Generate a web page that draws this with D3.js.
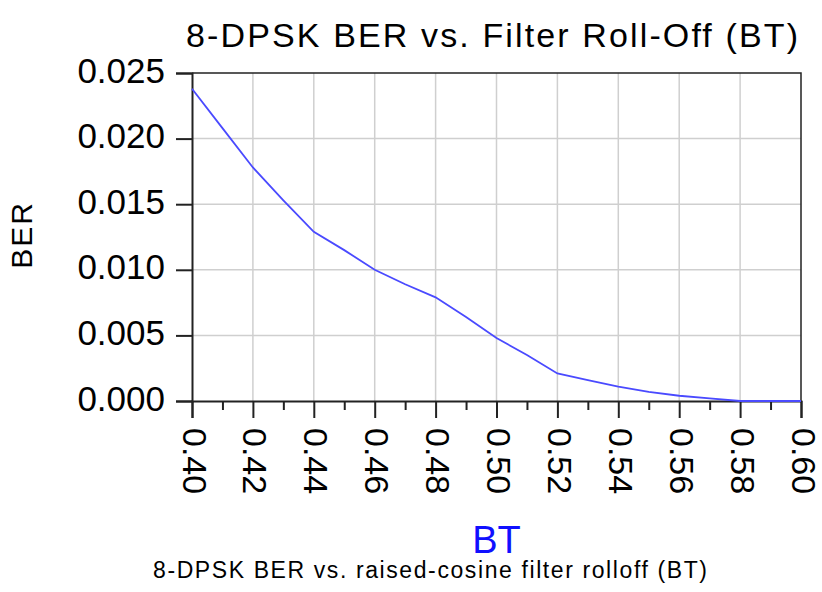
<!DOCTYPE html>
<html>
<head>
<meta charset="utf-8">
<script src="https://cdn.jsdelivr.net/npm/d3@7"></script>
<style>
  body { margin: 0; background: #fff; }
  svg { font-family: "Liberation Sans", Arial, sans-serif; }
</style>
</head>
<body>
<script>
const margin = {top: 73, left: 192, bottom: 191, right: 21}
const W = 822, H = 592
const width = W - margin.left - margin.right
const height = H - margin.top - margin.bottom

// BT values and measured BER
const bt = [0.40, 0.41, 0.42, 0.43, 0.44, 0.45, 0.46, 0.47, 0.48, 0.49, 0.50,
            0.51, 0.52, 0.53, 0.54, 0.55, 0.56, 0.57, 0.58, 0.59, 0.60]
const ber = [0.0238, 0.0208, 0.0178, 0.0153, 0.0129, 0.0115, 0.0100, 0.0089, 0.0079, 0.0064, 0.0048,
             0.0035, 0.0021, 0.0016, 0.0011, 0.0007, 0.0004, 0.0002, 0.0000, 0.0000, 0.0000]
const xTicks = [0.40, 0.42, 0.44, 0.46, 0.48, 0.50, 0.52, 0.54, 0.56, 0.58, 0.60]
const xMinor = [0.41, 0.43, 0.45, 0.47, 0.49, 0.51, 0.53, 0.55, 0.57, 0.59]
const yTicks = [0.000, 0.005, 0.010, 0.015, 0.020, 0.025]

const title = "8-DPSK BER vs. Filter Roll-Off (BT)"
const caption = "8-DPSK BER vs. raised-cosine filter rolloff (BT)"

let x = d3.scaleLinear().domain([0.40, 0.60]).range([0, width])
let y = d3.scaleLinear().domain([0, 0.025]).range([height, 0])

let svg = d3.select('body').append('svg')
            .attr('width', W)
            .attr('height', H)

let g = svg.append('g').attr('transform', `translate(${margin.left},${margin.top})`)

// grid
g.append('g').selectAll('line').data(xTicks.slice(1, -1)).join('line')
 .attr('x1', d => x(d)).attr('x2', d => x(d))
 .attr('y1', 0).attr('y2', height)
 .attr('stroke', '#cfcfcf').attr('stroke-width', 1.5)
g.append('g').selectAll('line').data(yTicks.slice(1, -1)).join('line')
 .attr('x1', 0).attr('x2', width)
 .attr('y1', d => y(d)).attr('y2', d => y(d))
 .attr('stroke', '#cfcfcf').attr('stroke-width', 1.5)

// frame top / right
g.append('path')
 .attr('d', `M0,0H${width}V${height}`)
 .attr('fill', 'none').attr('stroke', '#222').attr('stroke-width', 1.5)

// y axis
let gy = g.append('g')
  .call(d3.axisLeft(y).tickValues(yTicks).tickFormat(d3.format('.3f')).tickSize(16).tickPadding(11))
gy.select('.domain').attr('stroke', '#222').attr('stroke-width', 2)
gy.selectAll('.tick line').attr('stroke', '#222').attr('stroke-width', 2)
gy.selectAll('text').attr('font-size', 35).attr('fill', '#000').attr('dy', '0.26em')
  .style('font-family', '"Liberation Sans", Arial, sans-serif')

// x minor ticks
g.append('g').attr('transform', `translate(0,${height})`)
 .call(d3.axisBottom(x).tickValues(xMinor).tickSize(9).tickFormat(''))
 .call(s => s.select('.domain').remove())
 .selectAll('.tick line').attr('stroke', '#222').attr('stroke-width', 2)

// x axis
let gx = g.append('g').attr('transform', `translate(0,${height})`)
  .call(d3.axisBottom(x).tickValues(xTicks).tickFormat(d3.format('.2f')).tickSize(17))
gx.select('.domain').attr('stroke', '#222').attr('stroke-width', 2)
gx.selectAll('.tick line').attr('stroke', '#222').attr('stroke-width', 2)
gx.selectAll('text')
  .attr('font-size', 34).attr('fill', '#000')
  .attr('transform', 'rotate(90)')
  .attr('x', 27).attr('y', 10).attr('dy', 0)
  .attr('text-anchor', 'start')
  .style('font-family', '"Liberation Sans", Arial, sans-serif')

// data line
let line = d3.line().x((d, i) => x(bt[i])).y(d => y(d))
g.append('path')
 .datum(ber)
 .attr('d', line)
 .attr('fill', 'none')
 .attr('stroke', '#4a4aff')
 .attr('stroke-width', 1.8)

// texts
svg.append('text')
   .attr('x', 186).attr('y', 47)
   .attr('font-size', 34)
   .attr('textLength', 612).attr('lengthAdjust', 'spacing')
   .text(title)

svg.append('text')
   .attr('transform', 'translate(32,235) rotate(-90)')
   .attr('text-anchor', 'middle')
   .attr('font-size', 30)
   .attr('letter-spacing', 2)
   .text('BER')

svg.append('text')
   .attr('x', margin.left + width / 2).attr('y', 553)
   .attr('text-anchor', 'middle')
   .attr('font-size', 38)
   .attr('fill', '#1010ff')
   .text('BT')

svg.append('text')
   .attr('x', 153).attr('y', 578)
   .attr('font-size', 23)
   .attr('textLength', 554).attr('lengthAdjust', 'spacing')
   .text(caption)
</script>
</body>
</html>
